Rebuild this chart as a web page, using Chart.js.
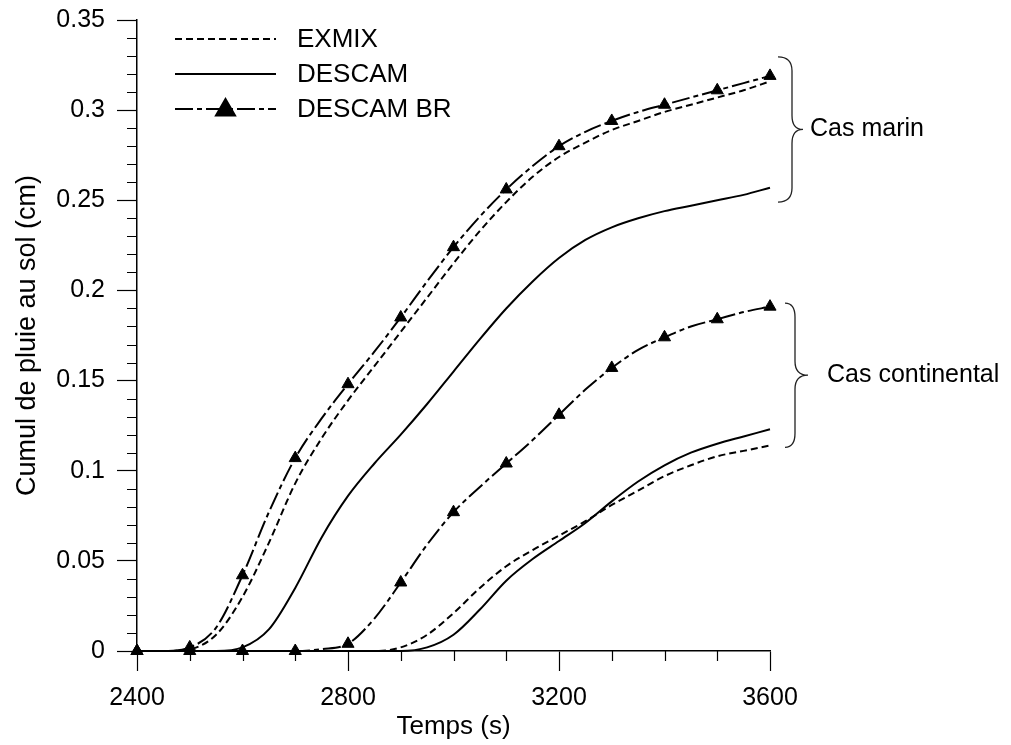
<!DOCTYPE html>
<html lang="fr">
<head>
<meta charset="utf-8">
<title>Cumul de pluie au sol</title>
<script src="https://cdn.jsdelivr.net/npm/chart.js@4.4.1/dist/chart.umd.min.js"></script>
<style>
  html, body { margin: 0; padding: 0; background: #fff; }
</style>
</head>
<body>
<canvas id="pluie" width="1011" height="745"></canvas>
<script>
// Temps (s), un point toutes les 50 s
const temps = [2400, 2450, 2500, 2550, 2600, 2650, 2700, 2750, 2800, 2850, 2900, 2950,
               3000, 3050, 3100, 3150, 3200, 3250, 3300, 3350, 3400, 3450, 3500, 3550, 3600];

// Cas marin (cm)
const marinExmix = [0, 0, 0.001, 0.009, 0.030, 0.060, 0.093, 0.118, 0.139, 0.158, 0.177, 0.196,
                    0.215, 0.233, 0.249, 0.263, 0.274, 0.282, 0.289, 0.294, 0.299, 0.303, 0.307, 0.311, 0.316];
const marinDescam = [0, 0, 0, 0, 0.002, 0.012, 0.035, 0.063, 0.086, 0.104, 0.120, 0.137,
                     0.155, 0.173, 0.190, 0.205, 0.218, 0.228, 0.235, 0.240, 0.244, 0.247, 0.250, 0.253, 0.257];
const marinDescamBR = [0, 0, 0.002, 0.013, 0.042, 0.077, 0.107, 0.129, 0.148, 0.166, 0.185, 0.205,
                       0.224, 0.241, 0.256, 0.269, 0.280, 0.288, 0.294, 0.299, 0.303, 0.307, 0.311, 0.315, 0.319];

// Cas continental (cm)
const continentalExmix = [0, 0, 0, 0, 0, 0, 0, 0, 0, 0, 0.002, 0.009,
                          0.021, 0.035, 0.047, 0.056, 0.064, 0.072, 0.081, 0.089, 0.097, 0.103, 0.108, 0.111, 0.114];
const continentalDescam = [0, 0, 0, 0, 0, 0, 0, 0, 0, 0, 0, 0.002,
                           0.009, 0.023, 0.039, 0.051, 0.061, 0.071, 0.083, 0.094, 0.103, 0.110, 0.115, 0.119, 0.123];
const continentalDescamBR = [0, 0, 0, 0, 0, 0, 0, 0.001, 0.004, 0.018, 0.038, 0.059,
                             0.077, 0.091, 0.104, 0.117, 0.131, 0.145, 0.157, 0.167, 0.174, 0.180, 0.184, 0.188, 0.191];

// Graduations
const ticksX = [2400, 2800, 3200, 3600];
const ticksY = [0, 0.05, 0.1, 0.15, 0.2, 0.25, 0.3, 0.35];

const POLICE = '"Liberation Sans", Arial, sans-serif';
Chart.defaults.font.family = POLICE;
Chart.defaults.font.size = 25;
Chart.defaults.color = '#000';

const points = values => values.map((v, i) => ({ x: temps[i], y: v }));

// styles des trois courbes
const styleExmix = { borderDash: [7, 4], pointRadius: 0 };
const styleDescam = { borderDash: [], pointRadius: 0 };
const styleBR = {
    borderDash: [18, 4, 5, 4],
    pointStyle: 'triangle',
    pointRadius: c => (c.raw && c.raw.x % 100 === 0 ? 7 : 0),
    pointBackgroundColor: '#000',
    pointBorderColor: '#000',
    pointBorderWidth: 1
};

const serie = (label, values, style) => Object.assign({
    label: label,
    data: points(values),
    borderColor: '#000',
    borderWidth: 2,
    fill: false,
    cubicInterpolationMode: 'monotone',
    clip: false
}, style);

// Sous-graduations, légende et accolades
const decor = {
    id: 'decor',
    afterDraw(chart) {
        const ctx = chart.ctx;
        const area = chart.chartArea;
        const sx = chart.scales.x;
        const sy = chart.scales.y;
        ctx.save();

        // sous-graduations
        ctx.strokeStyle = '#000';
        ctx.lineWidth = 1.2;
        ctx.beginPath();
        for (let t = 2400; t <= 3600; t += 100) {
            if (ticksX.includes(t)) continue;
            const x = Math.round(sx.getPixelForValue(t)) + 0.5;
            ctx.moveTo(x, area.bottom);
            ctx.lineTo(x, area.bottom + 10);
        }
        for (let i = 0; i <= 35; i++) {
            if (i % 5 === 0) continue;
            const y = Math.round(sy.getPixelForValue(i / 100)) + 0.5;
            ctx.moveTo(area.left - 10, y);
            ctx.lineTo(area.left, y);
        }
        ctx.stroke();

        // légende
        ctx.font = '26px ' + POLICE;
        ctx.textBaseline = 'middle';
        ctx.fillStyle = '#000';
        for (let i = 0; i < 3; i++) {
            const ds = chart.data.datasets[i];
            const y = area.top + 19 + i * 35;
            const x0 = area.left + 38, x1 = area.left + 139;
            ctx.lineWidth = 2;
            ctx.setLineDash(ds.borderDash || []);
            ctx.beginPath();
            ctx.moveTo(x0, y);
            ctx.lineTo(x1, y);
            ctx.stroke();
            ctx.setLineDash([]);
            if (ds.pointStyle === 'triangle') {
                Chart.helpers.drawPoint(ctx, { pointStyle: 'triangle', radius: 11, borderWidth: 1 }, (x0 + x1) / 2, y + 1);
            }
            ctx.fillText(ds.label, area.left + 160, y + 1);
        }

        // accolades
        const accolade = (x0, xs, xp, yHaut, yBas) => {
            const yMil = (yHaut + yBas) / 2;
            const r = 14;
            ctx.beginPath();
            ctx.moveTo(x0, yHaut);
            ctx.quadraticCurveTo(xs, yHaut, xs, yHaut + r);
            ctx.lineTo(xs, yMil - r);
            ctx.quadraticCurveTo(xs, yMil, xp, yMil);
            ctx.quadraticCurveTo(xs, yMil, xs, yMil + r);
            ctx.lineTo(xs, yBas - r);
            ctx.quadraticCurveTo(xs, yBas, x0, yBas);
            ctx.stroke();
            return yMil;
        };
        ctx.font = '25px ' + POLICE;
        ctx.strokeStyle = '#222';
        ctx.lineWidth = 1.3;
        const r = area.right;
        let ym = accolade(r + 8, r + 22, r + 33, sy.getPixelForValue(0.3296), sy.getPixelForValue(0.249));
        ctx.fillText('Cas marin', r + 40, ym);
        ym = accolade(r + 15, r + 25, r + 38, sy.getPixelForValue(0.193), sy.getPixelForValue(0.113));
        ctx.fillText('Cas continental', r + 57, ym);

        ctx.restore();
    }
};

const ctxPluie = document.getElementById('pluie').getContext('2d');
const graphePluie = new Chart(ctxPluie, {
    type: 'line',
    data: {
        datasets: [
            serie('EXMIX', marinExmix, styleExmix),
            serie('DESCAM', marinDescam, styleDescam),
            serie('DESCAM BR', marinDescamBR, styleBR),
            serie('EXMIX', continentalExmix, styleExmix),
            serie('DESCAM', continentalDescam, styleDescam),
            serie('DESCAM BR', continentalDescamBR, styleBR)
        ]
    },
    options: {
        responsive: false,
        animation: false,
        devicePixelRatio: 1,
        layout: { padding: { left: 0, top: 20, right: 241, bottom: 0 } },
        plugins: {
            legend: { display: false },
            tooltip: { enabled: false }
        },
        events: [],
        scales: {
            x: {
                type: 'linear',
                min: 2400,
                max: 3600,
                afterFit: s => { s.height = 94; s.paddingLeft = 0; s.paddingRight = 0; },
                afterBuildTicks: s => { s.ticks = ticksX.map(v => ({ value: v })); },
                ticks: { padding: 12, maxRotation: 0, callback: v => String(v) },
                grid: { drawOnChartArea: false, tickLength: 20, tickColor: '#000', tickWidth: 1.2 },
                border: { color: '#000', width: 1.5 },
                title: { display: true, text: 'Temps (s)', font: { size: 26 }, padding: { top: 0, bottom: 3 } }
            },
            y: {
                min: 0,
                max: 0.35,
                afterFit: s => { s.width = 137; s.paddingTop = 0; s.paddingBottom = 0; },
                afterBuildTicks: s => { s.ticks = ticksY.map(v => ({ value: v })); },
                ticks: { padding: 12, callback: v => String(+v.toFixed(2)) },
                grid: { drawOnChartArea: false, tickLength: 20, tickColor: '#000', tickWidth: 1.2 },
                border: { color: '#000', width: 1.5 },
                title: { display: true, text: 'Cumul de pluie au sol (cm)', font: { size: 27 }, padding: { top: 11, bottom: 0 } }
            }
        }
    },
    plugins: [decor]
});
</script>
</body>
</html>
